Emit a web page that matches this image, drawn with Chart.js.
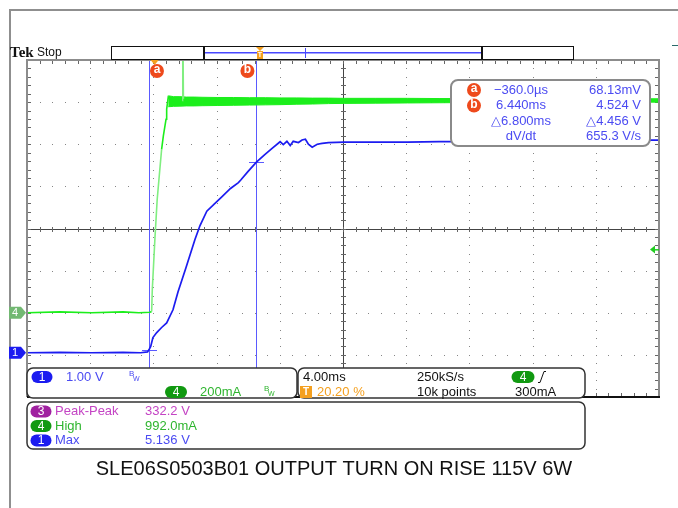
<!doctype html>
<html lang="en">
<head>
<meta charset="UTF-8">
<title>SLE06S0503B01 output turn on rise</title>
<script src="https://cdn.jsdelivr.net/npm/chart.js"></script>
<style>
  html, body { margin: 0; padding: 0; background: #fff; }
  canvas { display: block; }
</style>
</head>
<body>
<canvas id="scope" width="678" height="508"></canvas>
<script>
// horizontal: 4 ms/div, 10 divisions, trigger at 20.20 % of the record
const timePerDiv = 4;
const timeStart = -8.08;
const timeEnd = 31.92;

// vertical settings, position is in divisions from screen centre
const ch1VoltsPerDiv = 1.0;
const ch1Position = -2.95;
const ch4MilliampsPerDiv = 200;
const ch4Position = -2.0;
const ch4TriggerLevel = 300;

// channel 1 (blue) - output voltage, ms / V
const ch1Time = [-8.08, -6, -4, -2, -0.9, -0.45, -0.36, -0.25, -0.11, 0.13, 0.44, 0.76, 1.16, 1.48, 1.98, 2.55, 2.87, 3.30,
  3.75, 4.25, 4.80, 5.30, 5.45, 5.90, 6.44, 6.95, 7.45, 7.94, 8.14, 8.37, 8.58, 8.77, 9.10, 9.33, 9.54, 9.73, 9.97, 10.29,
  10.6, 11.0, 12, 14, 16, 18, 20, 22, 24, 26, 28, 30, 31, 31.92];
const ch1Volts = [0.0, 0.01, 0.0, 0.01, 0.0, 0.02, 0.07, 0.15, 0.36, 0.48, 0.60, 0.71, 1.02, 1.45, 2.02, 2.69, 3.02, 3.36,
  3.52, 3.70, 3.90, 4.04, 4.10, 4.30, 4.524, 4.70, 4.86, 5.01, 4.94, 5.02, 4.92, 5.02, 4.99, 5.05, 5.07, 4.95, 4.88, 4.95,
  4.97, 4.99, 5.0, 5.0, 5.0, 5.01, 5.01, 5.02, 5.02, 5.02, 5.03, 5.03, 5.05, 5.05];

// channel 4 (green) - input current, ms / mA
const ch4Time = [-8.08, -6, -4, -2, -1, -0.3, -0.19, -0.15, 0.02, 0.16, 0.29, 0.44, 0.55, 0.72, 0.76, 0.86, 1.2, 1.5,
  1.74, 1.78, 1.82, 2.2, 3, 4, 6, 8, 10, 14, 18, 22, 26, 30, 31.92];
const ch4Milliamps = [0, 4, 0, 4, 0, 2, 6, 110, 357, 538, 649, 776, 840, 919, 967, 1024, 1005, 1010,
  1008, 1400, 1012, 1006, 1005, 1004, 1003, 1004, 1004, 1005, 1006, 1007, 1007, 1008, 1008];

// noise envelope on the channel 4 plateau, ms / mA
const ch4BandTime = [0.86, 1.2, 1.6, 2.0, 2.5, 3.0, 4, 5, 6, 7, 8, 9, 10, 11, 12, 14, 16, 18, 20, 24, 28, 31.92];
const ch4BandHigh = [1030, 1026, 1026, 1024, 1024, 1023, 1022, 1022, 1021, 1021, 1020, 1020, 1019, 1019, 1018, 1018, 1018, 1017, 1017, 1017, 1016, 1016];
const ch4BandLow = [978, 980, 981, 982, 982, 983, 984, 985, 986, 987, 988, 990, 991, 993, 994, 995, 996, 997, 998, 998, 999, 1000];

// cursors a / b on channel 1
const cursorTime = [-0.36, 6.44];
const cursorVolts = [0.06813, 4.524];
const cursorNames = ['a', 'b'];
const cursorReadout = [
  ['\u2212360.0\u00b5s', '68.13mV'],
  ['6.440ms', '4.524 V'],
  ['\u25b36.800ms', '\u25b34.456 V'],
  ['dV/dt', '655.3 V/s']
];

// measurements
const measureChannels = ['3', '4', '1'];
const measureNames = ['Peak-Peak', 'High', 'Max'];
const measureValues = ['332.2 V', '992.0mA', '5.136 V'];

const titleText = 'SLE06S0503B01 OUTPUT TURN ON RISE 115V 6W';

const BLUE = '#1c1cf0';
const GREEN = '#1cee1c';
const CURSOR = '#5a5aff';
const READ_BLUE = '#4b4bf2';
const READ_GREEN = '#2fb52f';
const ORANGE = '#ee4a1c';
const TRIG = '#f4a020';
const SANS = '"Liberation Sans", Arial, sans-serif';

const ch1Div = v => v / ch1VoltsPerDiv + ch1Position;
const ch4Div = ma => ma / ch4MilliampsPerDiv + ch4Position;
const toPoints = (xs, ys, f) => xs.map((x, i) => ({ x: x, y: f(ys[i]) }));

function label(ctx, s, x, y, color, align, font) {
  ctx.fillStyle = color;
  ctx.textAlign = align || 'left';
  ctx.textBaseline = 'middle';
  ctx.font = font || '13px ' + SANS;
  ctx.fillText(s, x, y);
}

function pill(ctx, cx, cy, w, h, fill, s) {
  ctx.fillStyle = fill;
  ctx.beginPath();
  ctx.roundRect(cx - w / 2, cy - h / 2, w, h, h / 2);
  ctx.fill();
  label(ctx, s, cx, cy + 0.5, '#fff', 'center', '12px ' + SANS);
}

function roundBox(ctx, x0, y0, x1, y1, r, stroke, lw) {
  ctx.beginPath();
  ctx.roundRect(x0, y0, x1 - x0, y1 - y0, r);
  ctx.fillStyle = '#fff';
  ctx.fill();
  ctx.strokeStyle = stroke;
  ctx.lineWidth = lw;
  ctx.stroke();
}

function bwMark(ctx, x, y, color) {
  label(ctx, 'B', x, y - 3, color, 'left', '8px ' + SANS);
  label(ctx, 'W', x + 4, y + 2, color, 'left', '7px ' + SANS);
}

const graticule = {
  id: 'graticule',
  beforeDatasetsDraw(chart) {
    const { ctx, chartArea: a, scales: { x, y } } = chart;
    ctx.save();
    ctx.fillStyle = '#858585';
    // dotted lines, one dot every 1/5 division
    for (let i = 1; i < 10; i++) {
      if (i === 5) continue;
      const px = Math.round(x.getPixelForValue(timeStart + i * timePerDiv));
      for (let k = 0; k <= 40; k++) {
        ctx.fillRect(px, Math.round(y.getPixelForValue(-4 + k * 0.2)), 1, 1);
      }
    }
    for (let j = -3; j <= 3; j++) {
      if (j === 0) continue;
      const py = Math.round(y.getPixelForValue(j));
      for (let k = 0; k <= 50; k++) {
        ctx.fillRect(Math.round(x.getPixelForValue(timeStart + k * timePerDiv / 5)), py, 1, 1);
      }
    }
    // centre cross with minor ticks
    const cx = Math.round(x.getPixelForValue(timeStart + 5 * timePerDiv));
    const cy = Math.round(y.getPixelForValue(0));
    ctx.fillStyle = '#444';
    ctx.fillRect(a.left, cy, a.right - a.left, 1);
    ctx.fillRect(cx, a.top, 1, a.bottom - a.top);
    ctx.fillStyle = '#666';
    for (let k = 0; k <= 50; k++) {
      const px = Math.round(x.getPixelForValue(timeStart + k * timePerDiv / 5));
      ctx.fillRect(px, cy - 2, 1, 5);
      ctx.fillRect(px, a.top + 1, 1, 3);
      ctx.fillRect(px, a.bottom - 4, 1, 3);
    }
    for (let k = 0; k <= 40; k++) {
      const py = Math.round(y.getPixelForValue(-4 + k * 0.2));
      ctx.fillRect(cx - 2, py, 5, 1);
      ctx.fillRect(a.left + 1, py, 3, 1);
      ctx.fillRect(a.right - 4, py, 3, 1);
    }
    // cursors
    ctx.fillStyle = CURSOR;
    cursorTime.forEach((t, i) => {
      const px = Math.round(x.getPixelForValue(t));
      ctx.fillRect(px, a.top, 1, a.bottom - a.top);
      const py = Math.round(y.getPixelForValue(ch1Div(cursorVolts[i])));
      ctx.fillRect(px - 7, py, 15, 1);
    });
    ctx.restore();
  },
  afterDatasetsDraw(chart) {
    const { ctx, chartArea: a, scales: { x, y } } = chart;
    ctx.save();

    // window frame
    ctx.strokeStyle = '#8f8f8f';
    ctx.lineWidth = 2;
    ctx.beginPath();
    ctx.moveTo(10, 508);
    ctx.lineTo(10, 10);
    ctx.lineTo(678, 10);
    ctx.stroke();
    ctx.fillStyle = '#2a6a6a';
    ctx.fillRect(672, 45, 6, 1);

    // graticule border
    ctx.strokeStyle = '#8c8c8c';
    ctx.lineWidth = 2;
    ctx.beginPath();
    ctx.moveTo(a.left, a.bottom);
    ctx.lineTo(a.left, a.top);
    ctx.lineTo(a.right, a.top);
    ctx.lineTo(a.right, a.bottom);
    ctx.stroke();
    ctx.fillStyle = '#111';
    ctx.fillRect(a.left, a.bottom - 1, a.right - a.left + 1, 2);

    // status line and record bar
    label(ctx, 'Tek', 10, 53, '#111', 'left', 'bold 15px "Liberation Serif", serif');
    label(ctx, 'Stop', 37, 53, '#111', 'left', '12px ' + SANS);
    ctx.strokeStyle = '#111';
    ctx.lineWidth = 1;
    ctx.strokeRect(111.5, 46.5, 462, 13);
    ctx.fillStyle = '#111';
    ctx.fillRect(203, 46, 2, 14);
    ctx.fillRect(481, 46, 2, 14);
    ctx.fillStyle = '#4848ff';
    ctx.fillRect(205, 52, 276, 1.5);
    ctx.fillRect(305, 48, 1, 10);
    ctx.fillStyle = TRIG;
    ctx.beginPath();
    ctx.moveTo(256, 47); ctx.lineTo(264, 47); ctx.lineTo(260, 51); ctx.closePath();
    ctx.fill();
    ctx.fillRect(257, 51, 6, 8);
    label(ctx, 'T', 260, 55.5, '#fff', 'center', 'bold 7px ' + SANS);

    // trigger position and cursor flags
    const trigX = x.getPixelForValue(0);
    ctx.fillStyle = TRIG;
    ctx.beginPath();
    ctx.moveTo(trigX - 4, a.top); ctx.lineTo(trigX + 4, a.top); ctx.lineTo(trigX, a.top + 5); ctx.closePath();
    ctx.fill();
    cursorTime.forEach((t, i) => {
      const px = x.getPixelForValue(t) + (i === 0 ? 8 : -9);
      ctx.fillStyle = ORANGE;
      ctx.beginPath();
      ctx.arc(px, 71, 7, 0, Math.PI * 2);
      ctx.fill();
      label(ctx, cursorNames[i], px, 70, '#fff', 'center', 'bold 12px ' + SANS);
    });

    // ground markers
    [[ch1Position, BLUE, '1'], [ch4Position, '#72b872', '4']].forEach(m => {
      const py = y.getPixelForValue(m[0]);
      ctx.fillStyle = m[1];
      ctx.beginPath();
      ctx.moveTo(9, py - 6); ctx.lineTo(21, py - 6); ctx.lineTo(26, py);
      ctx.lineTo(21, py + 6); ctx.lineTo(9, py + 6); ctx.closePath();
      ctx.fill();
      label(ctx, m[2], 15, py + 0.5, '#fff', 'center', '11px ' + SANS);
    });

    // trigger level arrow
    const ty = y.getPixelForValue(ch4Div(ch4TriggerLevel));
    ctx.fillStyle = '#22cc22';
    ctx.beginPath();
    ctx.moveTo(650, ty); ctx.lineTo(655, ty - 4); ctx.lineTo(655, ty + 4); ctx.closePath();
    ctx.fill();
    ctx.fillRect(654, ty - 0.5, 5, 1.5);

    // cursor readout
    roundBox(ctx, 451, 80, 650, 146, 7, '#8a8a8a', 2);
    cursorReadout.forEach((row, i) => {
      const ry = 90 + i * 15.6;
      if (i < 2) {
        ctx.fillStyle = ORANGE;
        ctx.beginPath();
        ctx.arc(474, ry, 7, 0, Math.PI * 2);
        ctx.fill();
        label(ctx, cursorNames[i], 474, ry - 1, '#fff', 'center', 'bold 12px ' + SANS);
      }
      label(ctx, row[0], 521, ry, READ_BLUE, 'center');
      label(ctx, row[1], 641, ry, READ_BLUE, 'right');
    });

    // vertical settings box
    roundBox(ctx, 27, 368, 297, 398, 6, '#333', 1.5);
    pill(ctx, 42, 377, 21, 12, BLUE, '1');
    label(ctx, '1.00 V', 66, 377, READ_BLUE);
    bwMark(ctx, 129, 377, READ_BLUE);
    pill(ctx, 176, 392, 22, 12, '#119911', '4');
    label(ctx, '200mA', 200, 392, READ_GREEN);
    bwMark(ctx, 264, 392, READ_GREEN);

    // horizontal / trigger box
    roundBox(ctx, 298, 368, 585, 398, 6, '#333', 1.5);
    label(ctx, '4.00ms', 303, 377, '#111');
    label(ctx, '250kS/s', 417, 377, '#111');
    pill(ctx, 523, 377, 23, 12, '#119911', '4');
    ctx.strokeStyle = '#111';
    ctx.lineWidth = 1;
    ctx.beginPath();
    ctx.moveTo(538, 382.5); ctx.lineTo(540, 382.5); ctx.lineTo(544, 371.5); ctx.lineTo(546, 371.5);
    ctx.stroke();
    ctx.fillStyle = TRIG;
    ctx.fillRect(300, 386, 12, 12);
    label(ctx, 'T', 306, 392.5, '#fff', 'center', 'bold 10px ' + SANS);
    label(ctx, '20.20 %', 317, 392, TRIG);
    label(ctx, '10k points', 417, 392, '#111');
    label(ctx, '300mA', 515, 392, '#111');

    // measurement box
    roundBox(ctx, 27, 402, 585, 449, 6, '#333', 1.5);
    const pillColors = ['#a020a0', '#119911', BLUE];
    const textColors = ['#c444c4', READ_GREEN, READ_BLUE];
    measureNames.forEach((n, i) => {
      const ry = 411.5 + i * 14.5;
      pill(ctx, 41, ry, 21, 12, pillColors[i], measureChannels[i]);
      label(ctx, n, 55, ry, textColors[i]);
      label(ctx, measureValues[i], 145, ry, textColors[i]);
    });

    // title
    label(ctx, titleText, 334, 469, '#111', 'center', '20px ' + SANS);
    ctx.restore();
  }
};

new Chart(document.getElementById('scope'), {
  type: 'line',
  data: {
    datasets: [{
      label: 'Ch1 output voltage',
      data: toPoints(ch1Time, ch1Volts, ch1Div),
      borderColor: BLUE,
      borderWidth: 1.7,
      fill: false
    }, {
      label: 'Ch4 current',
      data: toPoints(ch4Time, ch4Milliamps, ch4Div),
      borderColor: GREEN,
      borderWidth: 1.6,
      fill: false,
      segment: {
        borderColor: c => Math.abs(c.p1.parsed.y - c.p0.parsed.y) > 0.5 ? '#80ee80' : undefined
      }
    }, {
      label: 'Ch4 band high',
      data: toPoints(ch4BandTime, ch4BandHigh, ch4Div),
      borderColor: GREEN,
      backgroundColor: GREEN,
      borderWidth: 1,
      fill: '+1'
    }, {
      label: 'Ch4 band low',
      data: toPoints(ch4BandTime, ch4BandLow, ch4Div),
      borderColor: GREEN,
      borderWidth: 1,
      fill: false
    }]
  },
  options: {
    responsive: false,
    animation: false,
    layout: { padding: { left: 27, top: 60, right: 19, bottom: 111 } },
    scales: {
      x: { type: 'linear', min: timeStart, max: timeEnd, display: false },
      y: { type: 'linear', min: -4, max: 4, display: false }
    },
    elements: { point: { radius: 0 }, line: { tension: 0 } },
    plugins: { legend: { display: false }, tooltip: { enabled: false } }
  },
  plugins: [graticule]
});
</script>
</body>
</html>
